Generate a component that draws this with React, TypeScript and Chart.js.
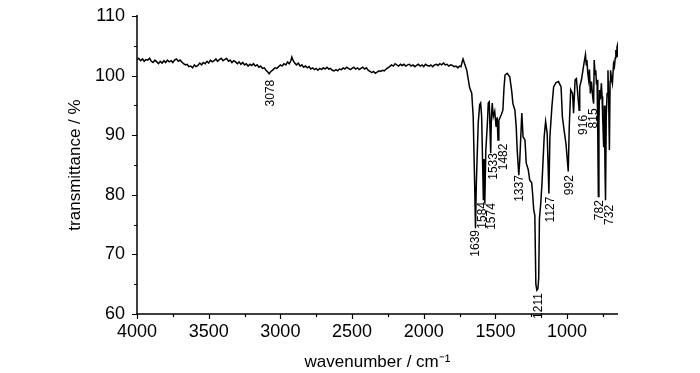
import React, { useEffect, useRef } from "react";
import { Chart, registerables } from "chart.js";

Chart.register(...registerables);

// Baseline region of the spectrum (4000 - 1726 cm-1)
const baselineWavenumbers = [
  4000, 3988, 3975, 3962, 3950, 3938, 3925, 3912, 3900, 3888, 3875, 3862, 3850, 3838, 3825, 3812, 3800, 3788, 3775, 3762, 3750, 3738, 3725, 3712, 3700,
  3688, 3675, 3662, 3650, 3638, 3625, 3612, 3600, 3588, 3575, 3562, 3550, 3538, 3525, 3512, 3500,
  3488, 3475, 3462, 3450, 3438, 3425, 3412, 3400, 3388, 3375, 3362, 3350, 3338, 3325, 3312, 3300,
  3288, 3275, 3262, 3250, 3238, 3225, 3212, 3200, 3188, 3175, 3162, 3150, 3138, 3125, 3112, 3100,
  3088, 3078, 3066, 3050, 3038, 3025, 3012, 3000, 2988, 2975, 2962, 2950, 2938, 2928, 2920, 2912, 2900,
  2888, 2875, 2862, 2850, 2838, 2825, 2812, 2800, 2788, 2775, 2762, 2750, 2738, 2725, 2712, 2700,
  2688, 2675, 2662, 2650, 2638, 2625, 2612, 2600, 2588, 2575, 2562, 2550, 2538, 2525, 2512, 2500,
  2488, 2475, 2462, 2450, 2438, 2425, 2412, 2400, 2388, 2375, 2362, 2350, 2338, 2325, 2312, 2300,
  2288, 2275, 2262, 2250, 2238, 2225, 2212, 2200, 2188, 2175, 2162, 2150, 2138, 2125, 2112, 2100,
  2088, 2075, 2062, 2050, 2038, 2025, 2012, 2000, 1988, 1975, 1962, 1950, 1938, 1925, 1912, 1900,
  1888, 1875, 1862, 1850, 1838, 1825, 1812, 1800, 1788, 1775, 1762, 1750, 1740, 1732, 1726,
];
const baselineTransmittance = [
  102.6, 102.9, 102.5, 102.8, 102.4, 102.7, 102.6, 102.9, 102.4, 102.2, 102.6, 102.3, 102.0, 102.4, 102.1, 102.5, 102.2, 102.6, 102.3, 102.5, 102.2, 102.6, 102.8, 102.4, 102.6,
  102.3, 102.0, 101.8, 101.9, 101.5, 101.6, 101.3, 101.8, 101.5, 101.7, 102.1, 101.8, 102.2, 102.0, 102.4, 102.1,
  102.6, 102.3, 102.5, 102.8, 102.4, 102.7, 102.9, 102.5, 102.7, 102.9, 102.4, 102.6, 102.2, 102.5, 102.3, 102.0,
  102.3, 101.9, 102.2, 101.8, 102.0, 101.6, 101.9, 101.7, 102.0, 101.6, 101.8, 101.4, 101.6, 101.2, 101.3, 100.9,
  100.6, 100.3, 100.7, 101.0, 101.3, 101.2, 101.5, 101.8, 101.6, 102.0, 101.8, 102.3, 102.0, 102.4, 103.1, 102.6, 102.1,
  101.8, 102.1, 101.6, 101.8, 101.4, 101.6, 101.3, 101.5, 101.1, 101.3, 101.0, 101.2, 100.9, 101.2, 101.0, 101.3,
  101.1, 101.4, 101.1, 101.2, 100.9, 100.8, 101.0, 100.8, 101.1, 101.0, 101.3, 101.1, 101.4, 101.2, 101.0, 101.2,
  101.4, 101.1, 101.3, 101.0, 101.2, 101.4, 101.1, 101.3, 100.9, 100.7, 100.5, 100.7, 100.4, 100.6, 100.8, 100.7,
  100.9, 100.8, 101.1, 101.3, 101.5, 101.8, 101.6, 102.0, 101.8, 101.6, 101.9, 101.7, 101.9, 101.6, 101.8, 101.9,
  101.6, 101.8, 101.5, 101.7, 101.9, 101.6, 101.8, 101.5, 101.9, 101.7, 101.6, 101.8, 101.5, 101.8, 101.9, 101.7,
  102.0, 101.8, 102.1, 101.8, 101.9, 101.6, 101.8, 101.7, 101.5, 101.6, 101.3, 101.6, 101.5, 102.3, 102.8,
];

// Fingerprint / band region (1715 - 647 cm-1)
const bandWavenumbers = [
  1715, 1700, 1680, 1665, 1655, 1645, 1639, 1633, 1620, 1610, 1603, 1596, 1584, 1579, 1574, 1567, 1556, 1550, 1543, 1533,
  1528, 1522, 1515, 1505, 1495, 1488, 1482, 1476, 1460, 1448, 1440, 1433, 1418, 1400, 1386, 1378, 1364, 1355, 1348, 1337,
  1330, 1316, 1307, 1294, 1285, 1271, 1261, 1247, 1240, 1233, 1225, 1218, 1211, 1204, 1198, 1193, 1184, 1175, 1160, 1150,
  1139, 1127, 1120, 1106, 1094, 1078, 1060, 1042, 1033, 1018, 1008, 992, 985, 975, 962, 955, 944, 935, 916, 912,
  900, 882, 872, 866, 862, 856, 850, 844, 838, 830, 822, 815, 811, 805, 800, 795, 791, 786, 782, 778,
  774, 768, 761, 756, 752, 745, 740, 736, 732, 727, 721, 715, 710, 705, 700, 697, 690, 684, 676, 670,
  664, 660, 656, 652, 650, 647,
];
const bandTransmittance = [
  102.0, 100.9, 98.0, 97.0, 93.1, 82.0, 74.4, 82.0, 92.0, 95.1, 95.4, 93.1, 79.1, 86.0, 78.6, 87.5, 92.0, 95.4, 95.6, 87.0,
  93.1, 95.4, 93.1, 94.0, 91.4, 93.0, 89.2, 92.5, 93.4, 94.2, 98.0, 100.1, 100.4, 99.8, 97.3, 95.3, 94.2, 91.4, 87.5, 83.3,
  85.8, 93.7, 89.7, 89.2, 85.3, 84.2, 82.5, 82.0, 80.0, 77.5, 76.5, 65.0, 64.0, 64.2, 66.0, 76.0, 78.5, 82.0, 89.7, 92.3,
  90.3, 80.2, 89.7, 94.8, 98.1, 98.8, 99.0, 98.1, 93.1, 90.3, 88.6, 83.9, 91.4, 97.6, 97.0, 93.7, 99.3, 99.5, 94.2, 98.1,
  99.3, 102.1, 103.5, 101.8, 102.6, 100.5, 99.3, 101.0, 97.0, 99.0, 96.5, 95.3, 102.6, 100.2, 100.9, 98.5, 99.3, 90.0, 79.7, 92.0,
  97.6, 96.0, 98.7, 96.5, 93.1, 88.0, 95.0, 85.0, 79.1, 93.1, 97.0, 100.9, 96.0, 87.5, 99.0, 100.9, 99.5, 98.7, 102.0, 101.5,
  103.0, 104.3, 103.2, 104.8, 105.0, 103.2,
];

// Peak annotations
const peakLabels = ["3078", "1639", "1584", "1574", "1533", "1482", "1337", "1211", "1127", "992", "916", "815", "782", "732"];
const peakLabelWavenumbers = [3065, 1635, 1588, 1523, 1511, 1439, 1328, 1197, 1116, 984, 881, 812, 770, 700];
const peakLabelTransmittance = [99.3, 74.1, 78.8, 78.6, 87.0, 88.6, 83.3, 63.5, 79.7, 83.3, 93.4, 94.5, 79.1, 78.3];

// Axis ticks
const xMajorTicks = [4000, 3500, 3000, 2500, 2000, 1500, 1000];
const xMinorTicks = [3750, 3250, 2750, 2250, 1750, 1250, 750];
const yMajorTicks = [60, 70, 80, 90, 100, 110];
const yMinorTicks = [65, 75, 85, 95, 105];

const FONT = "'Liberation Sans', Arial, Helvetica, sans-serif";

const axesAndLabels = {
  id: "axesAndLabels",
  afterDatasetsDraw(chart: any) {
    const { ctx, chartArea, scales } = chart;
    const xs = scales.x;
    const ys = scales.y;
    const { left, right, top, bottom } = chartArea;
    ctx.save();
    ctx.strokeStyle = "#000";
    ctx.fillStyle = "#000";
    ctx.lineWidth = 1.5;
    ctx.beginPath();
    ctx.moveTo(left, top - 1);
    ctx.lineTo(left, bottom);
    ctx.lineTo(right, bottom);
    ctx.stroke();
    ctx.lineWidth = 1.2;
    ctx.beginPath();
    yMajorTicks.forEach((v) => {
      const p = Math.round(ys.getPixelForValue(v)) + 0.5;
      ctx.moveTo(left - 5, p);
      ctx.lineTo(left, p);
    });
    yMinorTicks.forEach((v) => {
      const p = Math.round(ys.getPixelForValue(v)) + 0.5;
      ctx.moveTo(left - 3, p);
      ctx.lineTo(left, p);
    });
    xMajorTicks.forEach((v) => {
      const p = Math.round(xs.getPixelForValue(v)) + 0.5;
      ctx.moveTo(p, bottom);
      ctx.lineTo(p, bottom + 5);
    });
    xMinorTicks.forEach((v) => {
      const p = Math.round(xs.getPixelForValue(v)) + 0.5;
      ctx.moveTo(p, bottom);
      ctx.lineTo(p, bottom + 3);
    });
    ctx.stroke();

    ctx.font = `12px ${FONT}`;
    ctx.textAlign = "right";
    ctx.textBaseline = "middle";
    peakLabels.forEach((label, i) => {
      const px = xs.getPixelForValue(peakLabelWavenumbers[i]);
      const py = ys.getPixelForValue(peakLabelTransmittance[i]);
      ctx.save();
      ctx.translate(px, py);
      ctx.rotate(-Math.PI / 2);
      ctx.fillText(label, 0, 0);
      ctx.restore();
    });
    ctx.restore();
  },
};

export default function App() {
  const canvasRef = useRef<HTMLCanvasElement | null>(null);

  useEffect(() => {
    const canvas = canvasRef.current;
    if (!canvas) return;
    const wn = [...baselineWavenumbers, ...bandWavenumbers];
    const tr = [...baselineTransmittance, ...bandTransmittance];
    const points = wn.map((w, i) => ({ x: w, y: tr[i] }));

    const chart = new Chart(canvas, {
      type: "line",
      data: {
        datasets: [
          {
            data: points,
            borderColor: "#000",
            borderWidth: 1.5,
            pointRadius: 0,
            tension: 0,
            fill: false,
          },
        ],
      },
      options: {
        responsive: false,
        animation: false,
        events: [],
        layout: { padding: { top: 16, right: 82, bottom: 0, left: 0 } },
        plugins: {
          legend: { display: false },
          tooltip: { enabled: false },
          title: { display: false },
        },
        scales: {
          x: {
            type: "linear",
            reverse: true,
            min: 645,
            max: 4000,
            afterBuildTicks: (s: any) => {
              s.ticks = xMajorTicks.map((v) => ({ value: v }));
            },
            afterFit: (s: any) => {
              s.height = 59;
              s.paddingLeft = 0;
              s.paddingRight = 0;
            },
            grid: { display: false, drawTicks: false },
            border: { display: false },
            ticks: {
              color: "#000",
              font: { family: FONT, size: 18 },
              padding: 7,
              maxRotation: 0,
              autoSkip: false,
              callback: (v: any) => String(v),
            },
            title: {
              display: true,
              text: "wavenumber / cm⁻¹",
              color: "#000",
              font: { family: FONT, size: 17 },
              padding: { top: 6, bottom: 0 },
            },
          },
          y: {
            type: "linear",
            min: 60,
            max: 110,
            afterBuildTicks: (s: any) => {
              s.ticks = yMajorTicks.map((v) => ({ value: v }));
            },
            afterFit: (s: any) => {
              s.width = 137;
              s.paddingTop = 0;
              s.paddingBottom = 0;
            },
            grid: { display: false, drawTicks: false },
            border: { display: false },
            ticks: {
              color: "#000",
              font: { family: FONT, size: 18 },
              padding: 12,
              autoSkip: false,
              callback: (v: any) => String(v),
            },
            title: {
              display: true,
              text: "transmittance / %",
              color: "#000",
              font: { family: FONT, size: 17 },
              padding: { top: 65, bottom: 0 },
            },
          },
        },
      },
      plugins: [axesAndLabels],
    });
    return () => chart.destroy();
  }, []);

  return (
    <div style={{ position: "fixed", left: 0, top: 0, width: 700, height: 373, background: "#fff" }}>
      <canvas ref={canvasRef} width={700} height={373} style={{ display: "block" }} />
    </div>
  );
}
